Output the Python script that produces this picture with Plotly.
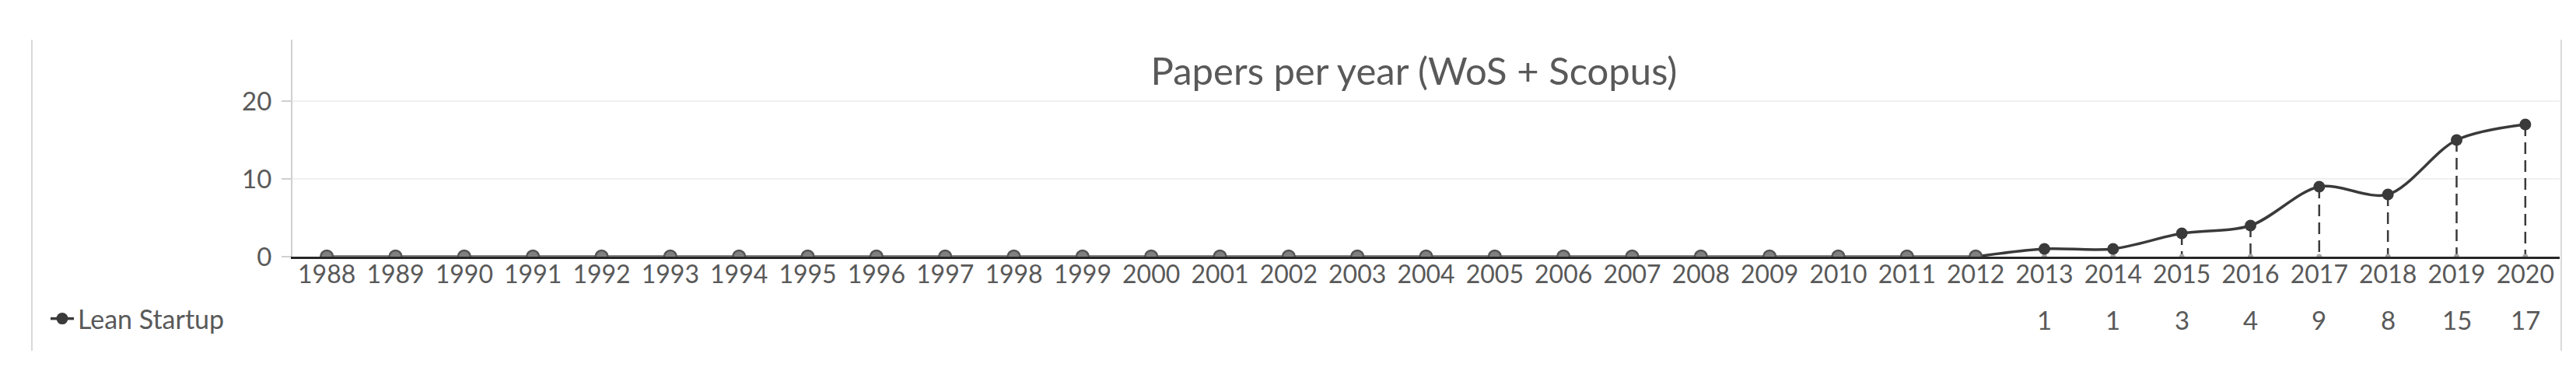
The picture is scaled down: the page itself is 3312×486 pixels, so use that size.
import plotly.graph_objects as go

# data
years = [str(y) for y in range(1988, 2021)]
papers = [0, 0, 0, 0, 0, 0, 0, 0, 0, 0, 0, 0, 0, 0, 0, 0, 0, 0, 0, 0, 0, 0, 0, 0, 0,
          1, 1, 3, 4, 9, 8, 15, 17]
first_year = "2012"   # Lean Startup line starts here
series_name = "Lean Startup"
title_text = "Papers per year (WoS + Scopus)"

W, H = 3312, 486
L, R, T, B = 368, 29, 43, 164
plot_w = W - L - R
plot_h = H - T - B
FONT = "Lato, 'Open Sans', sans-serif"
TXT = "#595959"
DARK = "#3a3a3a"

i0 = years.index(first_year)
zero_years, zero_vals = years[:i0 + 1], papers[:i0 + 1]
ls_years, ls_vals = years[i0:], papers[i0:]

# dashed drop lines from each point to the axis
drop_x, drop_y = [], []
for x, v in zip(ls_years[1:], ls_vals[1:]):
    drop_x += [x, x, None]
    drop_y += [v, 0, None]

fig = go.Figure()
fig.add_trace(go.Scatter(x=drop_x, y=drop_y, mode="lines", showlegend=False,
                         line=dict(color=DARK, width=2.5, dash="15px,8px"), hoverinfo="skip"))
fig.add_trace(go.Scatter(x=ls_years[1:], y=[0] * len(ls_years[1:]), mode="markers", showlegend=False,
                         marker=dict(color="#a6a6a6", size=7), hoverinfo="skip"))
fig.add_trace(go.Scatter(x=ls_years, y=ls_vals, mode="lines+markers", name=series_name,
                         line=dict(color=DARK, width=3.5, shape="spline", smoothing=0.9),
                         marker=dict(color=DARK, size=15, symbol="circle")))
fig.add_trace(go.Scatter(x=zero_years, y=zero_vals, mode="lines+markers", showlegend=False,
                         line=dict(color="#7f7f7f", width=4),
                         marker=dict(color="#808080", size=16, line=dict(color="#555555", width=2.5))))

# data table row under the axis (x given as category index)
for i, v in enumerate(papers):
    if v:
        fig.add_annotation(x=i, y=(322 - 403) / plot_h, xref="x", yref="paper", text=str(v),
                           showarrow=False, yanchor="middle", font=dict(size=33, color=TXT, family=FONT))

# chart area side borders
for px in (33, 3285):
    fig.add_shape(type="line", xref="paper", yref="paper",
                  x0=(px - L) / plot_w, x1=(px - L) / plot_w, y0=(322 - 443) / plot_h, y1=1,
                  line=dict(color="#d9d9d9", width=2))

fig.update_layout(
    width=W, height=H,
    margin=dict(l=L, r=R, t=T, b=B),
    paper_bgcolor="white", plot_bgcolor="white",
    font=dict(family=FONT, size=33, color=TXT),
    title=dict(text=title_text, x=1810 / W, xref="container", xanchor="center",
               y=1 - 84 / H, yref="container", yanchor="middle",
               font=dict(size=49, color=TXT, family=FONT)),
    showlegend=True,
    legend=dict(x=52 / W, xref="container", y=1 - 402 / H, yref="container",
                xanchor="left", yanchor="middle", font=dict(size=34, color=TXT),
                bgcolor="rgba(0,0,0,0)", itemwidth=30),
)
fig.update_xaxes(type="category", categoryorder="array", categoryarray=years,
                 range=[-0.5, len(years) - 0.5], showline=True, linecolor="#262626", linewidth=3,
                 showgrid=False, ticks="", ticklabelstandoff=-7, tickfont=dict(size=32, color=TXT),
                 zeroline=False)
fig.update_yaxes(range=[0, 27.9], tickvals=[0, 10, 20], showgrid=True, gridcolor="#f0f0f0", gridwidth=2,
                 showline=True, linecolor="#d0d0d0", linewidth=2, ticks="outside", ticklen=12,
                 tickcolor="#d0d0d0", tickwidth=2, zeroline=False, ticklabelstandoff=6,
                 tickfont=dict(size=33, color=TXT))

fig.write_html("out.html")
